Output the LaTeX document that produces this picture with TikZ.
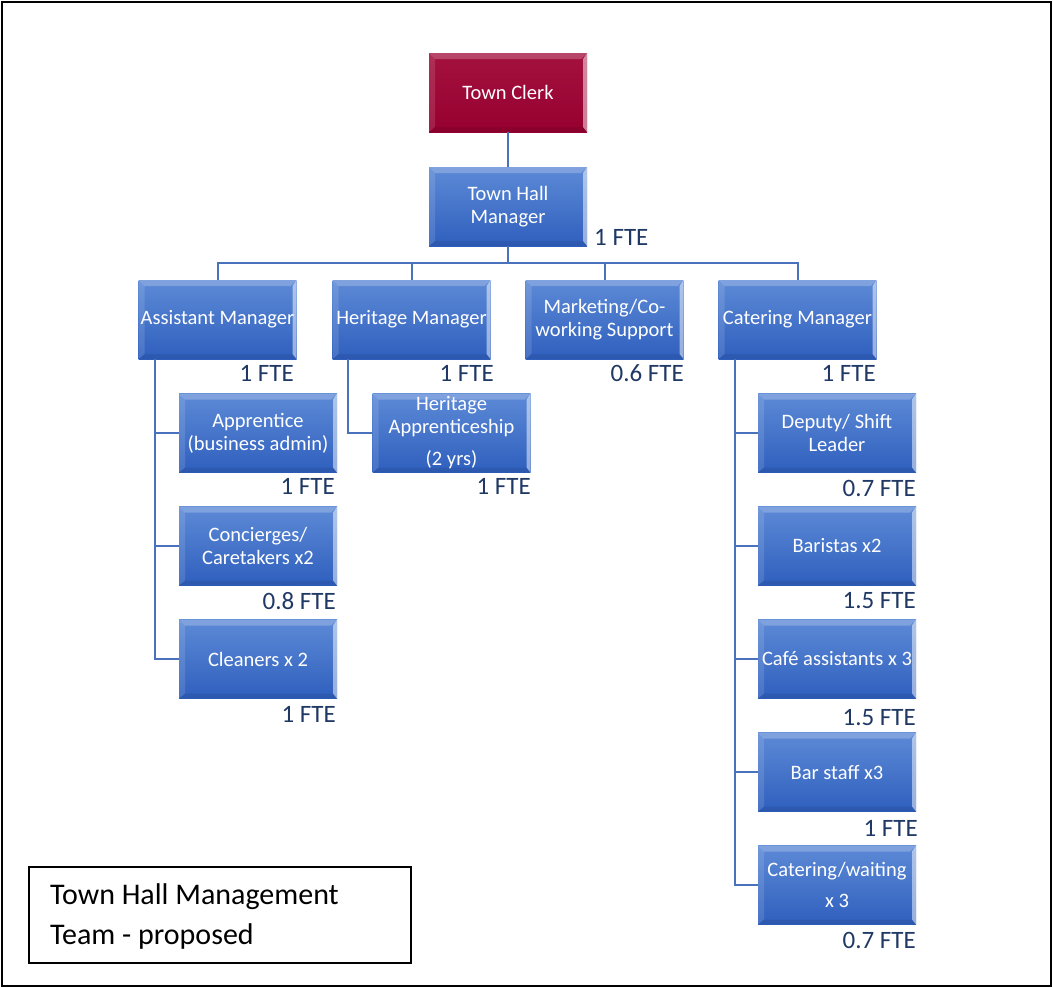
\documentclass[tikz,border=0pt]{standalone}
\usepackage{fontspec}
\setmainfont{Carlito}
\definecolor{boxtop}{HTML}{5D8AD6}
\definecolor{boxbot}{HTML}{2F5FBE}
\definecolor{clerktop}{HTML}{A4123F}
\definecolor{clerkbot}{HTML}{960030}
\definecolor{conn}{HTML}{4A72BC}
\definecolor{fte}{HTML}{1F3864}
\tikzset{
  bevel/.style={path picture={
    \fill[white,opacity=0.22] (path picture bounding box.north west) -- (path picture bounding box.north east)
      -- ([xshift=-6pt,yshift=-6pt]path picture bounding box.north east) -- ([xshift=6pt,yshift=-6pt]path picture bounding box.north west) -- cycle;
    \fill[white,opacity=0.12] (path picture bounding box.north west) -- ([xshift=6pt,yshift=-6pt]path picture bounding box.north west)
      -- ([xshift=6pt,yshift=5pt]path picture bounding box.south west) -- (path picture bounding box.south west) -- cycle;
    \fill[white,opacity=0.5] (path picture bounding box.north east) -- (path picture bounding box.south east)
      -- ([xshift=-4pt,yshift=5pt]path picture bounding box.south east) -- ([xshift=-4pt,yshift=-6pt]path picture bounding box.north east) -- cycle;
    \fill[black,opacity=0.08] (path picture bounding box.south west) -- (path picture bounding box.south east)
      -- ([xshift=-4pt,yshift=5pt]path picture bounding box.south east) -- ([xshift=6pt,yshift=5pt]path picture bounding box.south west) -- cycle;
  }},
  orgbox/.style={minimum width=158pt, minimum height=79pt, inner sep=0pt, text=white, align=center,
    font=\fontsize{20.5}{23}\selectfont, top color=boxtop, bottom color=boxbot, bevel},
  clerkbox/.style={orgbox, top color=clerktop, bottom color=clerkbot},
  ftelbl/.style={text=fte, font=\fontsize{25}{28}\selectfont, inner sep=0pt, anchor=east},
  link/.style={draw=conn, line width=2pt}
}
\begin{document}
\begin{tikzpicture}[x=1pt,y=-1pt]
\useasboundingbox (0,0) rectangle (1053,988);
\draw[line width=2pt] (2,2) rectangle (1051,986);

\coordinate (hub) at (508,263);
\node[clerkbox] (clerk) at (508,92.5) {Town Clerk};
\node[orgbox] (thm) at (508,206.5) {Town Hall\\Manager};
\node[orgbox] (am) at (217.5,319.5) {Assistant Manager};
\node[orgbox] (hm) at (411.5,319.5) {Heritage Manager};
\node[orgbox] (mk) at (604.5,319.5) {Marketing/Co-\\working Support};
\node[orgbox] (cm) at (797.5,319.5) {Catering Manager};
\node[orgbox] (ap) at (258,433) {Apprentice\\(business admin)};
\node[orgbox] (cc) at (258,546) {Concierges/\\Caretakers x2};
\node[orgbox] (cl) at (258,659) {Cleaners x 2};
\node[orgbox] (ha) at (451.5,433) {Heritage\\Apprenticeship\\[9pt](2 yrs)};
\node[orgbox] (dp) at (837,433) {Deputy/ Shift\\Leader};
\node[orgbox] (ba) at (837,546) {Baristas x2};
\node[orgbox] (ca) at (837,659) {Café assistants x 3};
\node[orgbox] (bs) at (837,772) {Bar staff x3};
\node[orgbox] (cw) at (837,885) {Catering/waiting\\[8pt]x 3};

\draw[link] (clerk) -- (thm);
\draw[link] (thm.south) -- (hub) -| (am.north);
\draw[link] (hub) -| (hm.north);
\draw[link] (hub) -| (mk.north);
\draw[link] (hub) -| (cm.north);
\draw[link] ([xshift=17pt]am.south west) |- (ap.west);
\draw[link] ([xshift=17pt]am.south west) |- (cc.west);
\draw[link] ([xshift=17pt]am.south west) |- (cl.west);
\draw[link] ([xshift=16pt]hm.south west) |- (ha.west);
\draw[link] ([xshift=17pt]cm.south west) |- (dp.west);
\draw[link] ([xshift=17pt]cm.south west) |- (ba.west);
\draw[link] ([xshift=17pt]cm.south west) |- (ca.west);
\draw[link] ([xshift=17pt]cm.south west) |- (bs.west);
\draw[link] ([xshift=17pt]cm.south west) |- (cw.west);

% FTE labels
\node[ftelbl, anchor=west] (fthm) at (594,237) {1 FTE};
\node[ftelbl] (fam) at (294,373) {1 FTE};
\node[ftelbl] (fhm) at (494,373) {1 FTE};
\node[ftelbl] (fmk) at (684,373) {0.6 FTE};
\node[ftelbl] (fcm) at (876,373) {1 FTE};
\node[ftelbl] (fap) at (335,486) {1 FTE};
\node[ftelbl] (fha) at (531,486) {1 FTE};
\node[ftelbl] (fcc) at (336,601) {0.8 FTE};
\node[ftelbl] (fcl) at (336,714) {1 FTE};
\node[ftelbl] (fdp) at (916,488) {0.7 FTE};
\node[ftelbl] (fba) at (916,601) {1.5 FTE};
\node[ftelbl] (fca) at (916,718) {1.5 FTE};
\node[ftelbl] (fbs) at (918,828) {1 FTE};
\node[ftelbl] (fcw) at (916,940) {0.7 FTE};

% legend
\node[draw, line width=1.2pt, minimum width=382pt, minimum height=96pt, inner sep=0pt] (legend) at (220,915) {};
\node[anchor=west, align=left, inner sep=0pt, font=\fontsize{30}{40}\selectfont] (legtxt) at (50,916) {Town Hall Management\\Team - proposed};
\end{tikzpicture}
\end{document}
